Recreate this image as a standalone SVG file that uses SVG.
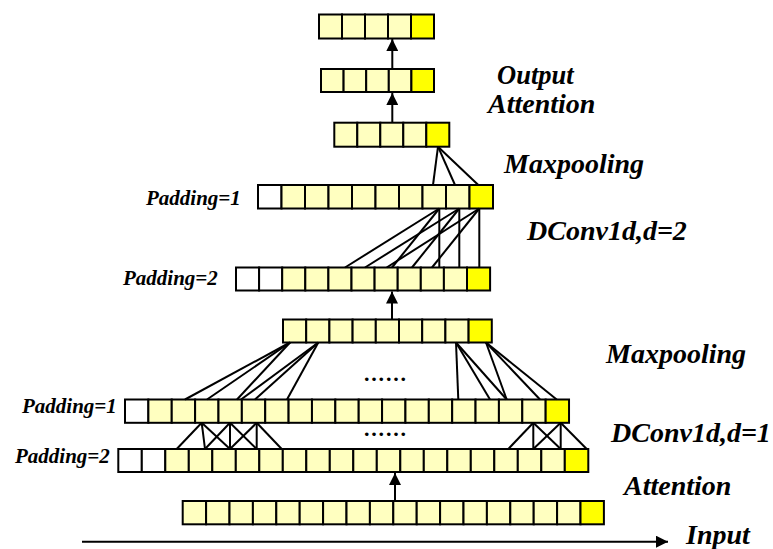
<svg xmlns="http://www.w3.org/2000/svg" width="773" height="549" viewBox="0 0 773 549">
<defs>
<style>
.c{fill:#FFFFC0;stroke:#000;stroke-width:2}
.y{fill:#FFFF00;stroke:#000;stroke-width:2}
.w{fill:#FFFFFF;stroke:#000;stroke-width:2}
.ln{stroke:#000;stroke-width:2;fill:none}
text{font-family:'Liberation Serif','Times New Roman',Times,'DejaVu Serif',serif;font-weight:bold;font-style:italic;fill:#000}
.lbl{font-size:28px}
.out{font-size:26.5px}
.pad{font-size:21px}
.dots{font-size:22px;font-style:normal;letter-spacing:1.8px}
</style>
<marker id="ah" markerUnits="userSpaceOnUse" markerWidth="12" markerHeight="12" viewBox="0 0 12 12" refX="12" refY="6" orient="auto">
<path d="M0,0 L12,6 L0,12 z" fill="#000"/>
</marker>
</defs>
<rect width="773" height="549" fill="#fff"/>

<g id="row1">
<rect class="c" x="319" y="14.5" width="23" height="24"/>
<rect class="c" x="342" y="14.5" width="23" height="24"/>
<rect class="c" x="365" y="14.5" width="23" height="24"/>
<rect class="c" x="388" y="14.5" width="23" height="24"/>
<rect class="y" x="411" y="14.5" width="23" height="24"/>
</g>
<g id="row2">
<rect class="c" x="321" y="69" width="22.6" height="23"/>
<rect class="c" x="343.6" y="69" width="22.6" height="23"/>
<rect class="c" x="366.2" y="69" width="22.6" height="23"/>
<rect class="c" x="388.8" y="69" width="22.6" height="23"/>
<rect class="y" x="411.4" y="69" width="22.6" height="23"/>
</g>
<g id="row3">
<rect class="c" x="334.3" y="122.7" width="23" height="24"/>
<rect class="c" x="357.3" y="122.7" width="23" height="24"/>
<rect class="c" x="380.3" y="122.7" width="23" height="24"/>
<rect class="c" x="403.3" y="122.7" width="23" height="24"/>
<rect class="y" x="426.3" y="122.7" width="23" height="24"/>
</g>
<g id="row4">
<rect class="w" x="258" y="185" width="23.5" height="23.5"/>
<rect class="c" x="281.5" y="185" width="23.5" height="23.5"/>
<rect class="c" x="305" y="185" width="23.5" height="23.5"/>
<rect class="c" x="328.5" y="185" width="23.5" height="23.5"/>
<rect class="c" x="352" y="185" width="23.5" height="23.5"/>
<rect class="c" x="375.5" y="185" width="23.5" height="23.5"/>
<rect class="c" x="399" y="185" width="23.5" height="23.5"/>
<rect class="c" x="422.5" y="185" width="23.5" height="23.5"/>
<rect class="c" x="446" y="185" width="23.5" height="23.5"/>
<rect class="y" x="469.5" y="185" width="23.5" height="23.5"/>
</g>
<g id="row5">
<rect class="w" x="236" y="267.5" width="23.1" height="23"/>
<rect class="w" x="259.1" y="267.5" width="23.1" height="23"/>
<rect class="c" x="282.2" y="267.5" width="23.1" height="23"/>
<rect class="c" x="305.3" y="267.5" width="23.1" height="23"/>
<rect class="c" x="328.4" y="267.5" width="23.1" height="23"/>
<rect class="c" x="351.5" y="267.5" width="23.1" height="23"/>
<rect class="c" x="374.6" y="267.5" width="23.1" height="23"/>
<rect class="c" x="397.7" y="267.5" width="23.1" height="23"/>
<rect class="c" x="420.8" y="267.5" width="23.1" height="23"/>
<rect class="c" x="443.9" y="267.5" width="23.1" height="23"/>
<rect class="y" x="467" y="267.5" width="23.1" height="23"/>
</g>
<g id="row6">
<rect class="c" x="283" y="319.5" width="23.2" height="23"/>
<rect class="c" x="306.2" y="319.5" width="23.2" height="23"/>
<rect class="c" x="329.4" y="319.5" width="23.2" height="23"/>
<rect class="c" x="352.6" y="319.5" width="23.2" height="23"/>
<rect class="c" x="375.8" y="319.5" width="23.2" height="23"/>
<rect class="c" x="399" y="319.5" width="23.2" height="23"/>
<rect class="c" x="422.2" y="319.5" width="23.2" height="23"/>
<rect class="c" x="445.4" y="319.5" width="23.2" height="23"/>
<rect class="y" x="468.6" y="319.5" width="23.2" height="23"/>
</g>
<g id="row7">
<rect class="w" x="125" y="399.5" width="23.37" height="23.3"/>
<rect class="c" x="148.37" y="399.5" width="23.37" height="23.3"/>
<rect class="c" x="171.74" y="399.5" width="23.37" height="23.3"/>
<rect class="c" x="195.11" y="399.5" width="23.37" height="23.3"/>
<rect class="c" x="218.48" y="399.5" width="23.37" height="23.3"/>
<rect class="c" x="241.85" y="399.5" width="23.37" height="23.3"/>
<rect class="c" x="265.22" y="399.5" width="23.37" height="23.3"/>
<rect class="c" x="288.59" y="399.5" width="23.37" height="23.3"/>
<rect class="c" x="311.96" y="399.5" width="23.37" height="23.3"/>
<rect class="c" x="335.33" y="399.5" width="23.37" height="23.3"/>
<rect class="c" x="358.7" y="399.5" width="23.37" height="23.3"/>
<rect class="c" x="382.07" y="399.5" width="23.37" height="23.3"/>
<rect class="c" x="405.44" y="399.5" width="23.37" height="23.3"/>
<rect class="c" x="428.81" y="399.5" width="23.37" height="23.3"/>
<rect class="c" x="452.18" y="399.5" width="23.37" height="23.3"/>
<rect class="c" x="475.55" y="399.5" width="23.37" height="23.3"/>
<rect class="c" x="498.92" y="399.5" width="23.37" height="23.3"/>
<rect class="c" x="522.29" y="399.5" width="23.37" height="23.3"/>
<rect class="y" x="545.66" y="399.5" width="23.37" height="23.3"/>
</g>
<g id="row8">
<rect class="w" x="118.3" y="449" width="23.5" height="23"/>
<rect class="w" x="141.8" y="449" width="23.5" height="23"/>
<rect class="c" x="165.3" y="449" width="23.5" height="23"/>
<rect class="c" x="188.8" y="449" width="23.5" height="23"/>
<rect class="c" x="212.3" y="449" width="23.5" height="23"/>
<rect class="c" x="235.8" y="449" width="23.5" height="23"/>
<rect class="c" x="259.3" y="449" width="23.5" height="23"/>
<rect class="c" x="282.8" y="449" width="23.5" height="23"/>
<rect class="c" x="306.3" y="449" width="23.5" height="23"/>
<rect class="c" x="329.8" y="449" width="23.5" height="23"/>
<rect class="c" x="353.3" y="449" width="23.5" height="23"/>
<rect class="c" x="376.8" y="449" width="23.5" height="23"/>
<rect class="c" x="400.3" y="449" width="23.5" height="23"/>
<rect class="c" x="423.8" y="449" width="23.5" height="23"/>
<rect class="c" x="447.3" y="449" width="23.5" height="23"/>
<rect class="c" x="470.8" y="449" width="23.5" height="23"/>
<rect class="c" x="494.3" y="449" width="23.5" height="23"/>
<rect class="c" x="517.8" y="449" width="23.5" height="23"/>
<rect class="c" x="541.3" y="449" width="23.5" height="23"/>
<rect class="y" x="564.8" y="449" width="23.5" height="23"/>
</g>
<g id="row9">
<rect class="c" x="182.7" y="501" width="23.4" height="23.3"/>
<rect class="c" x="206.1" y="501" width="23.4" height="23.3"/>
<rect class="c" x="229.5" y="501" width="23.4" height="23.3"/>
<rect class="c" x="252.9" y="501" width="23.4" height="23.3"/>
<rect class="c" x="276.3" y="501" width="23.4" height="23.3"/>
<rect class="c" x="299.7" y="501" width="23.4" height="23.3"/>
<rect class="c" x="323.1" y="501" width="23.4" height="23.3"/>
<rect class="c" x="346.5" y="501" width="23.4" height="23.3"/>
<rect class="c" x="369.9" y="501" width="23.4" height="23.3"/>
<rect class="c" x="393.3" y="501" width="23.4" height="23.3"/>
<rect class="c" x="416.7" y="501" width="23.4" height="23.3"/>
<rect class="c" x="440.1" y="501" width="23.4" height="23.3"/>
<rect class="c" x="463.5" y="501" width="23.4" height="23.3"/>
<rect class="c" x="486.9" y="501" width="23.4" height="23.3"/>
<rect class="c" x="510.3" y="501" width="23.4" height="23.3"/>
<rect class="c" x="533.7" y="501" width="23.4" height="23.3"/>
<rect class="c" x="557.1" y="501" width="23.4" height="23.3"/>
<rect class="y" x="580.5" y="501" width="23.4" height="23.3"/>
</g>

<g id="connectors">
<line class="ln" x1="392.3" y1="69" x2="392.3" y2="39" marker-end="url(#ah)"/>
<line class="ln" x1="392.3" y1="122.7" x2="392.3" y2="93" marker-end="url(#ah)"/>
<line class="ln" x1="392" y1="319.5" x2="392" y2="291.5" marker-end="url(#ah)"/>
<line class="ln" x1="395" y1="501" x2="395" y2="473" marker-end="url(#ah)"/>
<line class="ln" x1="82" y1="541.7" x2="668" y2="541.7" marker-end="url(#ah)"/>

<line class="ln" x1="438" y1="146.7" x2="433" y2="185"/>
<line class="ln" x1="438" y1="146.7" x2="455" y2="185"/>
<line class="ln" x1="438" y1="146.7" x2="478.3" y2="185"/>

<line class="ln" x1="439.3" y1="208.5" x2="439.3" y2="267.5"/>
<line class="ln" x1="439.3" y1="208.5" x2="392" y2="267.5"/>
<line class="ln" x1="439.3" y1="208.5" x2="345" y2="267.5"/>
<line class="ln" x1="459.3" y1="208.5" x2="459.3" y2="267.5"/>
<line class="ln" x1="459.3" y1="208.5" x2="412" y2="267.5"/>
<line class="ln" x1="459.3" y1="208.5" x2="365" y2="267.5"/>
<line class="ln" x1="479.3" y1="208.5" x2="479.3" y2="267.5"/>
<line class="ln" x1="479.3" y1="208.5" x2="432" y2="267.5"/>
<line class="ln" x1="479.3" y1="208.5" x2="386.7" y2="267.5"/>

<line class="ln" x1="290" y1="342.5" x2="185" y2="399.5"/>
<line class="ln" x1="290" y1="342.5" x2="207" y2="399.5"/>
<line class="ln" x1="290" y1="342.5" x2="237" y2="399.5"/>
<line class="ln" x1="318.3" y1="342.5" x2="241" y2="399.5"/>
<line class="ln" x1="318.3" y1="342.5" x2="255" y2="399.5"/>
<line class="ln" x1="318.3" y1="342.5" x2="287" y2="399.5"/>

<line class="ln" x1="456" y1="342.5" x2="458.3" y2="399.5"/>
<line class="ln" x1="456" y1="342.5" x2="490" y2="399.5"/>
<line class="ln" x1="456" y1="342.5" x2="506.7" y2="399.5"/>
<line class="ln" x1="486" y1="342.5" x2="506.7" y2="399.5"/>
<line class="ln" x1="486" y1="342.5" x2="540" y2="399.5"/>
<line class="ln" x1="486" y1="342.5" x2="556.7" y2="399.5"/>

<line class="ln" x1="201.7" y1="422.8" x2="176.7" y2="449"/>
<line class="ln" x1="201.7" y1="422.8" x2="205" y2="449"/>
<line class="ln" x1="201.7" y1="422.8" x2="230" y2="449"/>
<line class="ln" x1="230" y1="422.8" x2="205" y2="449"/>
<line class="ln" x1="230" y1="422.8" x2="230" y2="449"/>
<line class="ln" x1="230" y1="422.8" x2="256.7" y2="449"/>
<line class="ln" x1="256.7" y1="422.8" x2="230" y2="449"/>
<line class="ln" x1="256.7" y1="422.8" x2="256.7" y2="449"/>
<line class="ln" x1="256.7" y1="422.8" x2="281.7" y2="449"/>

<line class="ln" x1="533.3" y1="422.8" x2="508.3" y2="449"/>
<line class="ln" x1="533.3" y1="422.8" x2="533.3" y2="449"/>
<line class="ln" x1="533.3" y1="422.8" x2="560.7" y2="449"/>
<line class="ln" x1="560.7" y1="422.8" x2="533.3" y2="449"/>
<line class="ln" x1="560.7" y1="422.8" x2="560.7" y2="449"/>
<line class="ln" x1="560.7" y1="422.8" x2="586.7" y2="449"/>
</g>

<g id="labels">
<text class="out" x="497" y="84">Output</text>
<text class="lbl" x="488" y="113">Attention</text>
<text class="lbl" x="504" y="173">Maxpooling</text>
<text class="lbl" x="527" y="240">DConv1d,d=2</text>
<text class="lbl" x="606" y="363">Maxpooling</text>
<text class="lbl" x="611" y="442">DConv1d,d=1</text>
<text class="lbl" x="624" y="495">Attention</text>
<text class="lbl" x="686" y="544">Input</text>
<text class="pad" x="146" y="205">Padding=1</text>
<text class="pad" x="123" y="285">Padding=2</text>
<text class="pad" x="22" y="413">Padding=1</text>
<text class="pad" x="15" y="463">Padding=2</text>
<text class="dots" x="364" y="381">......</text>
<text class="dots" x="364" y="436">......</text>
</g>
</svg>
